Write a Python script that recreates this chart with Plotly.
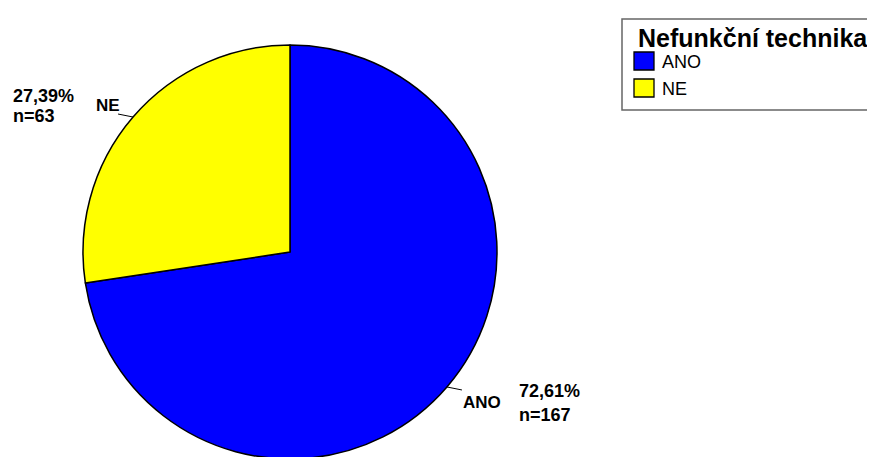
import math
import plotly.graph_objects as go

categories = ["ANO", "NE"]
counts = [167, 63]
percent_labels = ["72,61%", "27,39%"]
colors = ["#0000FF", "#FFFF00"]
legend_title = "Nefunkční technika"

W, H = 875, 457
OFF = 8  # page body margin in the screenshot
cx, cy, R = 290, 252, 207  # pie geometry in screenshot pixels

def px(x):
    return (x - OFF) / W

def py(y):
    return 1 - (y - OFF) / H

FONT = "Liberation Sans, Arial, sans-serif"

fig = go.Figure()
fig.add_trace(go.Pie(
    labels=categories,
    values=counts,
    sort=False,
    direction="clockwise",
    rotation=0,
    textinfo="none",
    hoverinfo="label+value+percent",
    marker=dict(colors=colors, line=dict(color="black", width=1.5)),
    domain=dict(x=[px(cx - R), px(cx + R)], y=[max(0, py(cy + R)), py(cy - R)]),
    showlegend=False,
))

total = sum(counts)
start = 0.0
shapes = []
annotations = []

def ann(x, y, text, xanchor="left", size=18, bold=True):
    annotations.append(dict(
        x=px(x), y=py(y), xref="paper", yref="paper",
        text=f"<b>{text}</b>" if bold else text, showarrow=False,
        xanchor=xanchor, yanchor="middle",
        font=dict(size=size, color="black", family=FONT)))

for i, (cat, n) in enumerate(zip(categories, counts)):
    frac = n / total
    mid = start + frac * 180.0  # degrees clockwise from top
    start += frac * 360.0
    ang = math.radians(90 - mid)
    ex = cx + R * math.cos(ang)
    ey = cy - R * math.sin(ang)
    if math.cos(ang) >= 0:
        lx, ly = ex + 15, ey + 3
        shapes.append(dict(type="line", xref="paper", yref="paper",
                           x0=px(ex), y0=py(ey), x1=px(lx), y1=py(ly),
                           line=dict(color="black", width=1)))
        ann(lx - 1, ly + 13, cat, "left", 17)
        ann(lx + 55, ly + 1, percent_labels[i], "left", 18)
        ann(lx + 55, ly + 25, f"n={n}", "left", 18)
    else:
        lx, ly = ex - 15, ey - 3
        shapes.append(dict(type="line", xref="paper", yref="paper",
                           x0=px(ex), y0=py(ey), x1=px(lx), y1=py(ly),
                           line=dict(color="black", width=1)))
        ann(lx + 4, ly - 9, cat, "right", 17)
        ann(11, ly - 18, percent_labels[i], "left", 18)
        ann(11, ly + 2, f"n={n}", "left", 18)

# legend drawn manually to match the reference box
LX0, LY0, LX1, LY1 = 622, 19, 873, 110
shapes.append(dict(type="rect", xref="paper", yref="paper",
                   x0=px(LX0), y0=py(LY0), x1=px(LX1), y1=py(LY1),
                   line=dict(color="#666666", width=1.5), fillcolor="white"))
ann(636, 38, legend_title, "left", 25)
for i, cat in enumerate(categories):
    yc = 61 + i * 27
    shapes.append(dict(type="rect", xref="paper", yref="paper",
                       x0=px(634), y0=py(yc - 9), x1=px(654), y1=py(yc + 9),
                       line=dict(color="black", width=1.3), fillcolor=colors[i]))
    ann(660, yc + 1, cat, "left", 18, bold=False)

fig.update_layout(
    width=W, height=H, autosize=False,
    margin=dict(l=0, r=0, t=0, b=0),
    paper_bgcolor="white", plot_bgcolor="white",
    font=dict(family=FONT, color="black"),
    shapes=shapes,
    annotations=annotations,
    showlegend=False,
)

fig.write_html("out.html")
